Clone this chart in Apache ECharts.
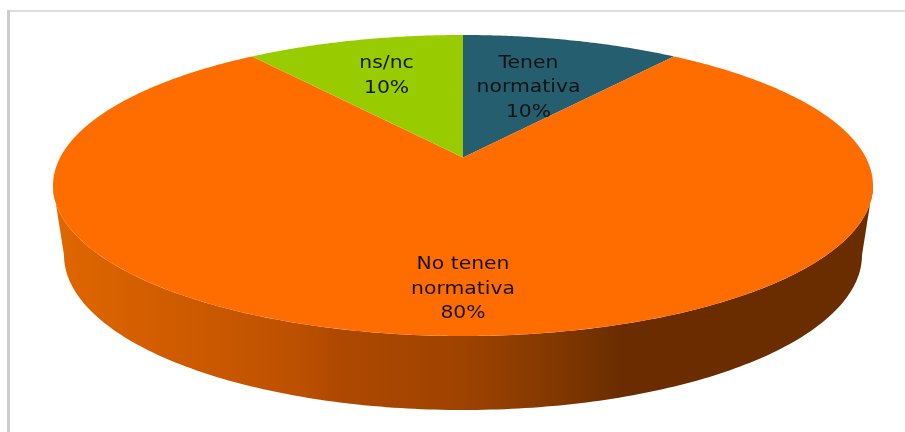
<!DOCTYPE html>
<html>
<head>
<meta charset="utf-8">
<style>html,body{margin:0;padding:0;background:#fff}#c{width:905px;height:432px}</style>
<script src="https://cdn.jsdelivr.net/npm/echarts@6/dist/echarts.min.js"></script>
</head>
<body>
<div id="c"></div>
<script>
var categories = ['Tenen\nnormativa', 'No tenen\nnormativa', 'ns/nc'];
var values = [10, 80, 10];
var sliceColors = ['#255E6E', '#FF6D00', '#99CC00'];
var labelRadius = [0.6, 0.735, 0.7];

var TOP = {cx: 463, cy: 185.5, rx: 410, ry: 150.5};
var BOTTOM = {cx: 463, cy: 255, rx: 399, ry: 155};
var APEX = {x: 463, y: 157.5};
var ANGLE_STRETCH = 2.87;
var total = values.reduce(function (a, b) { return a + b; }, 0);

// Ray from the (perspective-shifted) pie centre to the elliptical rim.
function rim(theta) {
  var dx = ANGLE_STRETCH * Math.sin(theta), dy = -Math.cos(theta);
  var ox = (APEX.x - TOP.cx) / TOP.rx, oy = (APEX.y - TOP.cy) / TOP.ry;
  var ux = dx / TOP.rx, uy = dy / TOP.ry;
  var a = ux * ux + uy * uy, b = 2 * (ox * ux + oy * uy), c = ox * ox + oy * oy - 1;
  var t = (-b + Math.sqrt(b * b - 4 * a * c)) / (2 * a);
  return {x: APEX.x + dx * t, y: APEX.y + dy * t, dx: dx * t, dy: dy * t};
}

function renderSlice(params, api) {
  var i = params.dataIndex, start = 0;
  for (var k = 0; k < i; k++) start += values[k];
  var a0 = start / total * 2 * Math.PI;
  var a1 = (start + api.value(0)) / total * 2 * Math.PI;
  var pts = [[APEX.x, APEX.y]];
  var n = Math.max(2, Math.ceil((a1 - a0) / (Math.PI / 360)));
  for (var j = 0; j <= n; j++) {
    var p = rim(a0 + (a1 - a0) * j / n);
    pts.push([p.x, p.y]);
  }
  var children = [];
  if (a0 <= Math.PI && a1 >= Math.PI) {
    var side = [];
    for (var s = 0; s <= 180; s++) {
      var q = Math.PI - s * Math.PI / 180;
      side.push([TOP.cx + TOP.rx * Math.cos(q), TOP.cy + TOP.ry * Math.sin(q)]);
    }
    for (s = 0; s <= 180; s++) {
      q = s * Math.PI / 180;
      side.push([BOTTOM.cx + BOTTOM.rx * Math.cos(q), BOTTOM.cy + BOTTOM.ry * Math.sin(q)]);
    }
    children.push({
      type: 'polygon', shape: {points: side}, z2: 1,
      style: {
        fill: new echarts.graphic.LinearGradient(53, 0, 873, 0, [
          {offset: 0, color: '#E06700'},
          {offset: 0.18, color: '#CC5900'},
          {offset: 0.3, color: '#BC5000'},
          {offset: 0.35, color: '#AE4800'},
          {offset: 0.5, color: '#9E4300'},
          {offset: 0.62, color: '#803700'},
          {offset: 0.69, color: '#6B2D00'},
          {offset: 1, color: '#6A2D00'}
        ], true)
      }
    });
  }
  children.push({type: 'polygon', shape: {points: pts}, z2: 2, style: {fill: sliceColors[i]}});
  var mid = rim((a0 + a1) / 2);
  children.push({
    type: 'text', z2: 10,
    x: APEX.x + mid.dx * labelRadius[i],
    y: APEX.y + mid.dy * labelRadius[i],
    scaleX: 1.1,
    style: {
      text: categories[i] + '\n' + api.value(0) + '%',
      fontFamily: 'DejaVu Sans', fontSize: 18.5, lineHeight: 24.5,
      fill: '#141414', align: 'center', verticalAlign: 'middle'
    }
  });
  return {type: 'group', children: children};
}

var chart = echarts.init(document.getElementById('c'), null, {renderer: 'canvas'});
chart.setOption({
  animation: false,
  backgroundColor: '#FFFFFF',
  graphic: [
    {type: 'rect', shape: {x: 7, y: 10, width: 898, height: 2}, style: {fill: '#DDDDDD'}, silent: true},
    {type: 'rect', shape: {x: 7, y: 10, width: 3, height: 422}, style: {fill: '#CCCCCC'}, silent: true}
  ],
  series: [{
    type: 'custom',
    coordinateSystem: 'none',
    silent: true,
    renderItem: renderSlice,
    data: values.map(function (v, i) { return {name: categories[i], value: [v]}; })
  }]
});
</script>
</body>
</html>
